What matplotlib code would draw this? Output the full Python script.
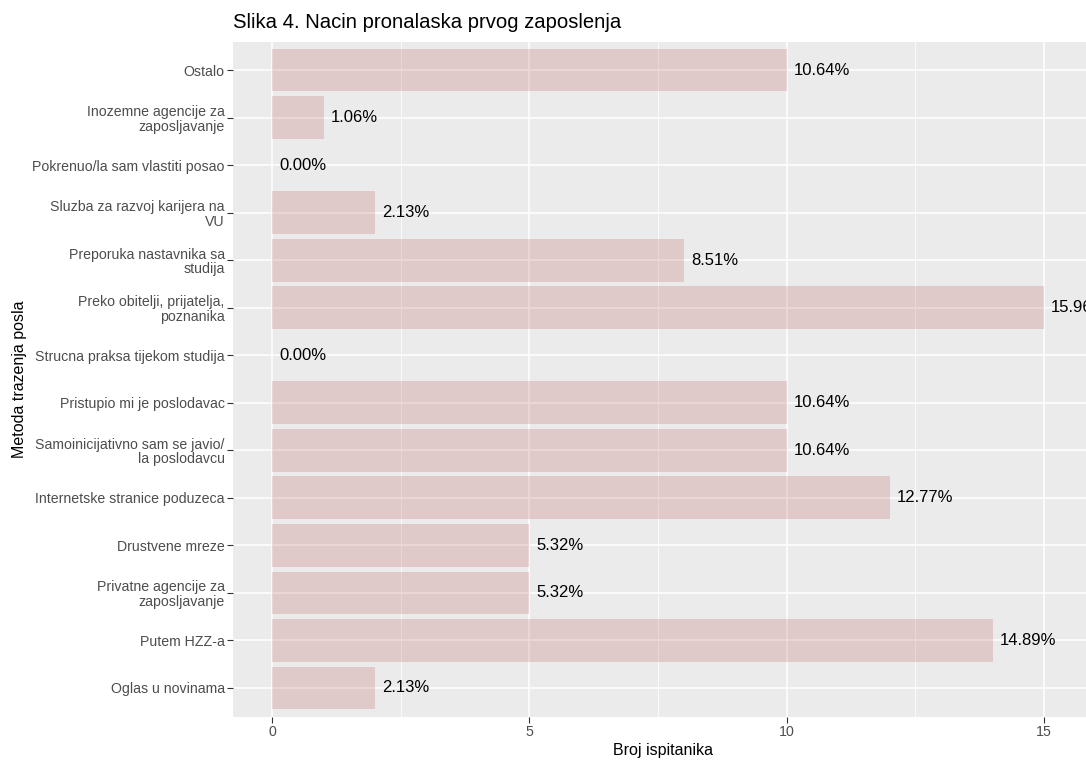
import numpy as np
import matplotlib
matplotlib.use('Agg')
import matplotlib.pyplot as plt
from matplotlib.ticker import MultipleLocator

plt.rcParams['font.family'] = ['Liberation Sans', 'DejaVu Sans']

# data (top to bottom as in the picture)
categories = [
    'Ostalo',
    'Inozemne agencije za\nzaposljavanje',
    'Pokrenuo/la sam vlastiti posao',
    'Sluzba za razvoj karijera na\nVU',
    'Preporuka nastavnika sa\nstudija',
    'Preko obitelji, prijatelja,\npoznanika',
    'Strucna praksa tijekom studija',
    'Pristupio mi je poslodavac',
    'Samoinicijativno sam se javio/\nla poslodavcu',
    'Internetske stranice poduzeca',
    'Drustvene mreze',
    'Privatne agencije za\nzaposljavanje',
    'Putem HZZ-a',
    'Oglas u novinama',
]
counts = [10, 1, 0, 2, 8, 15, 0, 10, 10, 12, 5, 5, 14, 2]
percents = [10.64, 1.06, 0.00, 2.13, 8.51, 15.96, 0.00, 10.64, 10.64, 12.77, 5.32, 5.32, 14.89, 2.13]
xticks = [0, 5, 10, 15]

W, H = 1086, 760
fig = plt.figure(figsize=(W / 100, H / 100), dpi=100)
fig.patch.set_facecolor('white')

# panel extends a little past the right edge, like the original
left, right, top, bottom = 233, 1093.5, 41.5, 716.5
ax = fig.add_axes([left / W, 1 - bottom / H, (right - left) / W, (bottom - top) / H])
ax.set_facecolor('#EBEBEB')

pos = np.arange(len(categories))
bars = ax.barh(pos, counts, height=0.9, color=(191 / 255, 107 / 255, 103 / 255, 0.25), zorder=3)
ax.bar_label(bars, labels=['%.2f%%' % p for p in percents], padding=5,
             fontsize=12, color='black', zorder=4, clip_on=False)

ax.set_xlim(-0.76, 15.96)
ax.set_ylim(len(categories) - 0.4, -0.6)

ax.set_xticks(xticks)
ax.xaxis.set_minor_locator(MultipleLocator(2.5))
ax.set_yticks(pos)
ax.set_yticklabels(categories, linespacing=1.05)

ax.grid(which='major', color='white', linewidth=1.1, zorder=1)
ax.grid(which='minor', axis='x', color='white', linewidth=0.55, zorder=1)
ax.set_axisbelow(True)

for s in ax.spines.values():
    s.set_visible(False)

ax.tick_params(axis='both', which='major', length=4, width=0.8, color='#333333',
               labelsize=10.2, labelcolor='#4D4D4D', pad=2)
ax.tick_params(axis='x', which='minor', length=0)

ax.set_xlabel('Broj ispitanika', fontsize=11.5, labelpad=3)
ax.set_ylabel('Metoda trazenja posla', fontsize=11.5)
ax.yaxis.set_label_coords(-(left - 27) / (right - left), 0.5)

fig.text(left / W, 1 - 23 / H, 'Slika 4. Nacin pronalaska prvog zaposlenja',
         fontsize=14.6, ha='left', va='center')

fig.savefig('out.png', dpi=100)
